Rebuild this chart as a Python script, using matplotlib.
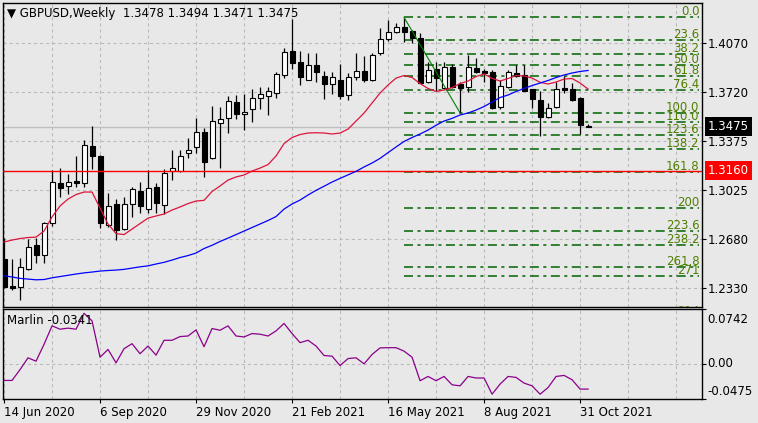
import numpy as np
import pandas as pd
import matplotlib
matplotlib.use('Agg')
import matplotlib.pyplot as plt

plt.rcParams['font.family'] = 'DejaVu Sans'
plt.rcParams['font.size'] = 8
plt.rcParams['lines.scale_dashes'] = False

# GBPUSD weekly candles, week of 14 Jun 2020 .. week of 7 Nov 2021
opens = [1.2538, 1.2345, 1.2333, 1.2461, 1.2632, 1.2561, 1.2788, 1.3074, 1.3053, 1.3088,
         1.3077, 1.3337, 1.3266, 1.2774, 1.2923, 1.2745, 1.2923, 1.3017, 1.2887, 1.3043,
         1.2916, 1.3159, 1.3161, 1.3285, 1.3327, 1.3434, 1.3253, 1.3498, 1.3533, 1.3647,
         1.3562, 1.3597, 1.3675, 1.3694, 1.3711, 1.3841, 1.4011, 1.3933, 1.3805, 1.3912,
         1.3834, 1.3777, 1.3805, 1.3701, 1.3829, 1.3869, 1.3805, 1.3995, 1.4093, 1.4144,
         1.4179, 1.4150, 1.4101, 1.3793, 1.3881, 1.3746, 1.3900, 1.3775, 1.3753, 1.3888,
         1.3871, 1.3864, 1.3616, 1.3753, 1.3857, 1.3844, 1.3739, 1.3663, 1.3540, 1.3611,
         1.3746, 1.3739, 1.3675, 1.3478]
highs = [1.2681, 1.2536, 1.2539, 1.2676, 1.2687, 1.2799, 1.3163, 1.3178, 1.3138, 1.3266,
         1.3379, 1.3479, 1.3273, 1.3005, 1.2958, 1.2972, 1.3048, 1.3079, 1.3166, 1.3076,
         1.3177, 1.3308, 1.3308, 1.3391, 1.3533, 1.3467, 1.3623, 1.3616, 1.3692, 1.3699,
         1.3706, 1.3741, 1.3758, 1.3756, 1.3860, 1.4032, 1.4238, 1.4011, 1.3995, 1.3999,
         1.3871, 1.3864, 1.3919, 1.3853, 1.3999, 1.3976, 1.3999, 1.4172, 1.4231, 1.4212,
         1.4249, 1.4160, 1.4137, 1.3935, 1.3935, 1.3935, 1.3919, 1.3791, 1.3983, 1.3958,
         1.3887, 1.3876, 1.3802, 1.3876, 1.3912, 1.3912, 1.3745, 1.3727, 1.3640, 1.3793,
         1.3834, 1.3782, 1.3687, 1.3494]
lows = [1.2328, 1.2314, 1.2247, 1.2453, 1.2509, 1.2509, 1.2769, 1.2972, 1.2996, 1.3049,
        1.3049, 1.3171, 1.2758, 1.2764, 1.2669, 1.2740, 1.2835, 1.2859, 1.2863, 1.2859,
        1.2854, 1.3095, 1.3152, 1.3253, 1.3285, 1.3119, 1.3244, 1.3183, 1.3427, 1.3526,
        1.3450, 1.3509, 1.3601, 1.3560, 1.3675, 1.3822, 1.3880, 1.3770, 1.3802, 1.3793,
        1.3668, 1.3706, 1.3668, 1.3663, 1.3805, 1.3793, 1.3798, 1.3983, 1.4082, 1.4139,
        1.4077, 1.4066, 1.3782, 1.3787, 1.3727, 1.3741, 1.3748, 1.3572, 1.3722, 1.3855,
        1.3793, 1.3599, 1.3597, 1.3748, 1.3826, 1.3727, 1.3604, 1.3408, 1.3533, 1.3606,
        1.3711, 1.3658, 1.3422, 1.3471]
closes = [1.2338, 1.2326, 1.2475, 1.2617, 1.2561, 1.2788, 1.3079, 1.3042, 1.3079, 1.3076,
          1.3342, 1.3268, 1.2788, 1.2909, 1.2740, 1.2923, 1.3029, 1.2911, 1.3036, 1.2934,
          1.3143, 1.3183, 1.3269, 1.3308, 1.3434, 1.3221, 1.3514, 1.3526, 1.3656, 1.3562,
          1.3580, 1.3675, 1.3704, 1.3724, 1.3846, 1.4002, 1.3924, 1.3830, 1.3912, 1.3864,
          1.3777, 1.3824, 1.3692, 1.3827, 1.3869, 1.3805, 1.3983, 1.4093, 1.4144, 1.4179,
          1.4148, 1.4101, 1.3786, 1.3876, 1.3819, 1.3900, 1.3756, 1.3746, 1.3900, 1.3862,
          1.3857, 1.3604, 1.3763, 1.3862, 1.3834, 1.3729, 1.3668, 1.3540, 1.3604, 1.3739,
          1.3734, 1.3663, 1.3489, 1.3475]

# moving averages as drawn on the chart
ma_red = [1.2655, 1.2669, 1.2680, 1.2687, 1.2690, 1.2733, 1.2833, 1.2911, 1.2960, 1.2992,
          1.3010, 1.3010, 1.2896, 1.2783, 1.2715, 1.2708, 1.2747, 1.2786, 1.2825, 1.2840,
          1.2854, 1.2882, 1.2904, 1.2928, 1.2946, 1.2951, 1.3014, 1.3053, 1.3095, 1.3117,
          1.3131, 1.3159, 1.3180, 1.3205, 1.3266, 1.3354, 1.3397, 1.3418, 1.3429, 1.3431,
          1.3429, 1.3422, 1.3429, 1.3457, 1.3514, 1.3571, 1.3642, 1.3713, 1.3770, 1.3819,
          1.3837, 1.3823, 1.3780, 1.3745, 1.3724, 1.3734, 1.3752, 1.3780, 1.3798, 1.3830,
          1.3848, 1.3817, 1.3798, 1.3816, 1.3837, 1.3834, 1.3819, 1.3789, 1.3777, 1.3791,
          1.3812, 1.3816, 1.3784, 1.3741]
ma_blue = [1.2415, 1.2407, 1.2397, 1.2392, 1.2387, 1.2389, 1.2401, 1.2410, 1.2419, 1.2428,
           1.2436, 1.2442, 1.2449, 1.2453, 1.2456, 1.2461, 1.2470, 1.2479, 1.2486, 1.2499,
           1.2511, 1.2527, 1.2545, 1.2559, 1.2577, 1.2609, 1.2632, 1.2659, 1.2683, 1.2708,
           1.2733, 1.2758, 1.2783, 1.2808, 1.2836, 1.2889, 1.2925, 1.2953, 1.2989, 1.3022,
           1.3051, 1.3081, 1.3107, 1.3132, 1.3157, 1.3188, 1.3216, 1.3249, 1.3290, 1.3330,
           1.3369, 1.3397, 1.3422, 1.3450, 1.3484, 1.3514, 1.3533, 1.3557, 1.3571, 1.3592,
           1.3617, 1.3649, 1.3681, 1.3699, 1.3724, 1.3745, 1.3766, 1.3784, 1.3802, 1.3823,
           1.3841, 1.3855, 1.3866, 1.3873]

marlin = [-0.0224, -0.0224, -0.0078, 0.0082, 0.0036, 0.0264, 0.0514, 0.0469, 0.0483, 0.0469,
          0.0684, 0.0582, 0.0090, 0.0195, 0.0014, 0.0205, 0.0273, 0.0137, 0.0241, 0.0118,
          0.0319, 0.0319, 0.0369, 0.0377, 0.0459, 0.0232, 0.0478, 0.0455, 0.0514, 0.0377,
          0.0364, 0.0410, 0.0401, 0.0377, 0.0446, 0.0547, 0.0410, 0.0287, 0.0319, 0.0241,
          0.0113, 0.0104, -0.0023, 0.0072, 0.0082, 0.0000, 0.0127, 0.0216, 0.0219, 0.0219,
          0.0172, 0.0090, -0.0228, -0.0170, -0.0228, -0.0170, -0.0283, -0.0297, -0.0170, -0.0191,
          -0.0191, -0.0410, -0.0273, -0.0170, -0.0183, -0.0260, -0.0297, -0.0410, -0.0320, -0.0170,
          -0.0156, -0.0215, -0.0341, -0.0341]

# fibonacci grid drawn from the 2021 high to the July low
fib_levels = [0.0, 23.6, 38.2, 50.0, 61.8, 76.4, 100.0, 110.0, 123.6, 138.2,
              161.8, 200, 223.6, 238.2, 261.8, 271, 314]
fib_labels = ['0.0', '23.6', '38.2', '50.0', '61.8', '76.4', '100.0', '110.0', '123.6', '138.2',
              '161.8', '200', '223.6', '238.2', '261.8', '271', '314']
fib_high, fib_low = 1.4250, 1.3572
fib_high_idx, fib_low_idx = 50, 57

support_level = 1.3160
price_ticks = [1.4070, 1.3720, 1.3375, 1.3025, 1.2680, 1.2330]
marlin_ticks = [0.0742, 0.0, -0.0475]
marlin_labels = ['0.0742', '0.00', '-0.0475']

BG = '#e8e8e8'
GRID = '#b9b9b9'
FIB = '#006400'
FIB_TXT = '#4f7f00'

dates = pd.date_range('2020-06-14', periods=len(opens), freq='7D')
x = np.arange(len(opens))
o = np.array(opens)
c = np.array(closes)

fig = plt.figure(figsize=(7.58, 4.23), dpi=100, facecolor=BG)
ax = fig.add_axes([2.5 / 758, 1 - 306.7 / 423, 699.2 / 758, 303.7 / 423], facecolor=BG)
ax2 = fig.add_axes([2.5 / 758, 1 - 399 / 423, 699.2 / 758, 90 / 423], facecolor=BG)

xmin, xmax = -0.19, 87.2
grid_x = np.arange(0, 88, 6)

# --- price panel ---
ax.set_xlim(xmin, xmax)
ax.set_ylim(1.2196, 1.4352)
for gx in grid_x:
    ax.axvline(gx, color=GRID, lw=0.8, ls=(0, (2.2, 2.2)), zorder=0)
for gy in price_ticks:
    ax.axhline(gy, color=GRID, lw=0.8, ls=(0, (2.2, 2.2)), zorder=0)

fib_prices = [fib_high - lv / 100.0 * (fib_high - fib_low) for lv in fib_levels]
fib_end = 86.9
for fp, lab in zip(fib_prices, fib_labels):
    ax.plot([fib_high_idx, fib_end], [fp, fp], color=FIB, lw=1.1,
            ls=(0, (6.5, 3.2, 2.2, 3.2)), zorder=1)
    ax.annotate(lab, xy=(fib_end, fp), xytext=(0, 2), textcoords='offset pixels',
                ha='right', va='baseline', color=FIB_TXT, fontsize=8.5,
                annotation_clip=False, clip_on=True, zorder=6)
ax.plot([fib_high_idx, fib_low_idx], [fib_high, fib_low], color='#008000', lw=0.8, zorder=5)

ax.axhline(closes[-1], color='#c0c0c0', lw=1.0, zorder=1)
ax.axhline(support_level, color='#ff0000', lw=1.0, zorder=5)

# candles
ax.vlines(x, lows, highs, color='black', lw=0.9, zorder=3)
ax.bar(x, np.maximum(np.abs(c - o), 0.00005), bottom=np.minimum(o, c), width=0.62,
       color=np.where(c >= o, 'white', 'black'), edgecolor='black', lw=0.8, zorder=4)

ax.plot(x, ma_red, color='#dc143c', lw=0.9, zorder=5)
ax.plot(x, ma_blue, color='#0000ff', lw=0.9, zorder=5)

ax.yaxis.tick_right()
ax.set_yticks(price_ticks)
ax.set_yticklabels([f'{p:.4f}' for p in price_ticks])
ax.tick_params(axis='y', length=3, width=0.8, pad=1.5, labelsize=8.5)
ax.tick_params(axis='x', length=0, labelbottom=False)

box = dict(boxstyle='square,pad=0.25', ec='none')
ax.annotate(f'{closes[-1]:.4f}', xy=(1, closes[-1]), xycoords=('axes fraction', 'data'),
            xytext=(6, 0), textcoords='offset pixels', va='center', ha='left',
            color='white', fontsize=8.5, bbox=dict(box, fc='black'), annotation_clip=False)
ax.annotate(f'{support_level:.4f}', xy=(1, support_level), xycoords=('axes fraction', 'data'),
            xytext=(6, 0), textcoords='offset pixels', va='center', ha='left',
            color='white', fontsize=8.5, bbox=dict(box, fc='#ff0000'), annotation_clip=False)

fig.text(7 / 758, 1 - 13 / 423,
         '\u25bc GBPUSD,Weekly  %.4f %.4f %.4f %.4f' % (opens[-1], highs[-1], lows[-1], closes[-1]),
         va='center', ha='left', fontsize=8.5)

# --- Marlin panel ---
ax2.set_xlim(xmin, xmax)
ax2.set_ylim(-0.0475, 0.0742)
for gx in grid_x:
    ax2.axvline(gx, color=GRID, lw=0.8, ls=(0, (2.2, 2.2)), zorder=0)
ax2.axhline(0, color=GRID, lw=0.8, ls=(0, (2.2, 2.2)), zorder=0)
ax2.plot(x, marlin, color='#8b008b', lw=0.9, zorder=3)

ax2.yaxis.tick_right()
ax2.set_yticks(marlin_ticks)
ax2.set_yticklabels([])
ax2.tick_params(axis='y', length=3, width=0.8)
offs = [-10, 0, 8]
for val, lab, dy in zip(marlin_ticks, marlin_labels, offs):
    ax2.annotate(lab, xy=(1, val), xycoords=('axes fraction', 'data'), xytext=(6, dy),
                 textcoords='offset pixels', va='center', ha='left', fontsize=8.5,
                 annotation_clip=False)

tick_idx = x[::12]
ax2.set_xticks(tick_idx)
ax2.set_xticklabels([f'{d.day} {d:%b %Y}' for d in dates[::12]], ha='left', fontsize=8.5)
ax2.tick_params(axis='x', length=3, width=0.8, pad=2)

fig.text(7 / 758, 1 - 320 / 423, 'Marlin %.4f' % marlin[-1], va='center', ha='left', fontsize=8.5)

for a in (ax, ax2):
    for s in a.spines.values():
        s.set_linewidth(1.0)
        s.set_color('black')

fig.savefig('out.png', dpi=100, facecolor=BG)
